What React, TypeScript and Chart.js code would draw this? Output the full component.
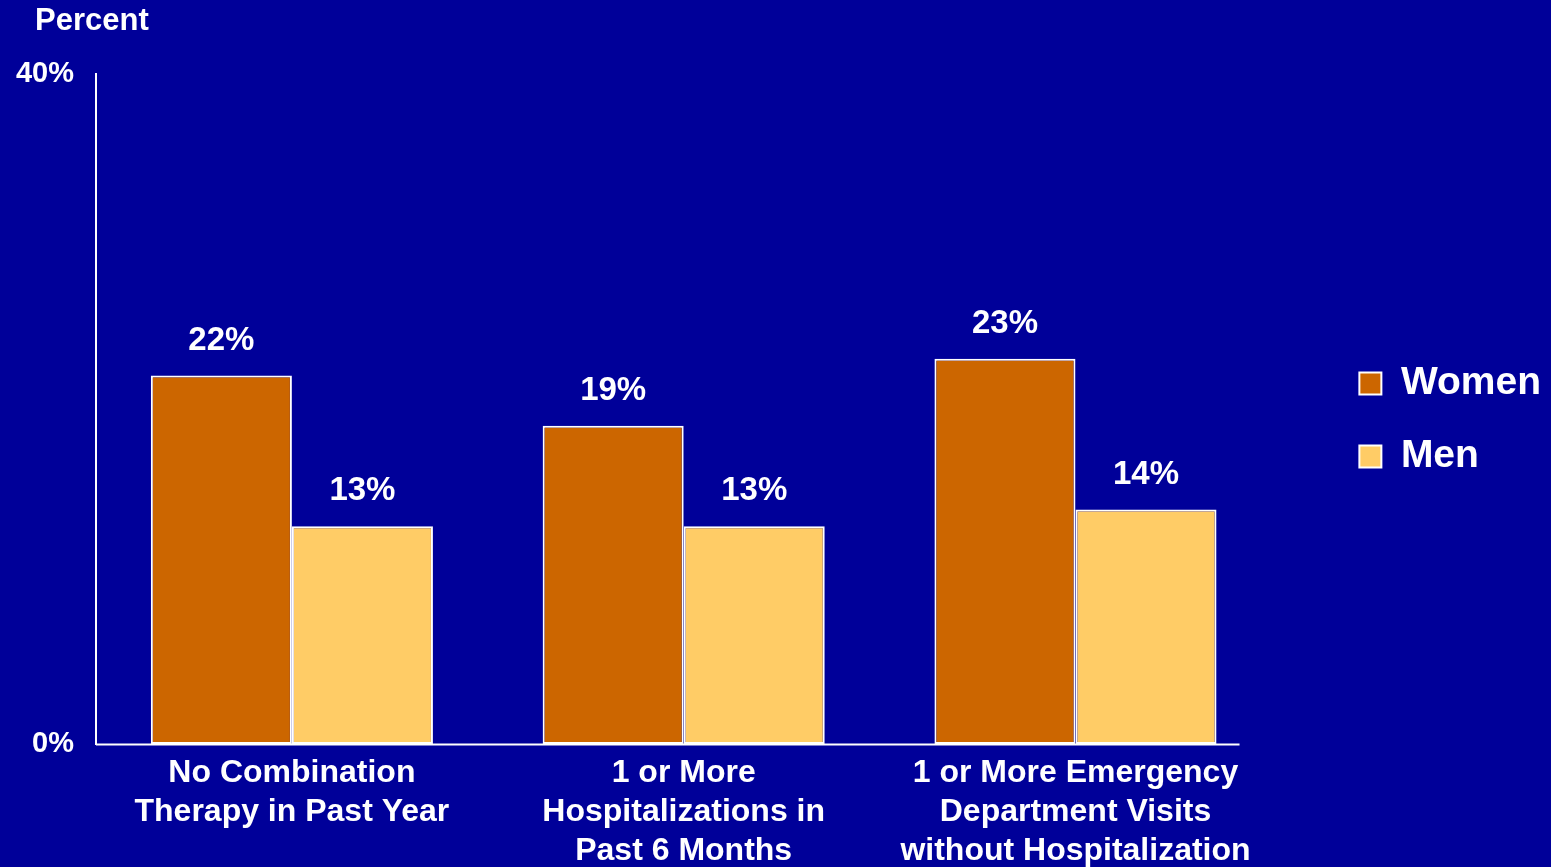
import React, { useEffect, useRef } from "react";
import { Chart, registerables } from "chart.js";

Chart.register(...registerables);

const categories: string[][] = [
  ["No Combination", "Therapy in Past Year"],
  ["1 or More", "Hospitalizations in", "Past 6 Months"],
  ["1 or More Emergency", "Department Visits", "without Hospitalization"],
];
const seriesNames = ["Women", "Men"];
const womenValues = [22, 19, 23];
const menValues = [13, 13, 14];
const yMin = 0;
const yMax = 40;
const yAxisTitle = "Percent";

const FONT = '"Liberation Sans", Arial, Helvetica, sans-serif';
const BG = "#000099";
const WOMEN_COLOR = "#CC6600";
const MEN_COLOR = "#FFCC66";

const valueLabels = {
  id: "valueLabels",
  afterDatasetsDraw(chart: any) {
    const ctx = chart.ctx;
    ctx.save();
    ctx.font = `bold 33px ${FONT}`;
    ctx.fillStyle = "#FFFFFF";
    ctx.textAlign = "center";
    ctx.textBaseline = "alphabetic";
    chart.data.datasets.forEach((ds: any, di: number) => {
      const meta = chart.getDatasetMeta(di);
      meta.data.forEach((bar: any, i: number) => {
        ctx.fillText(`${ds.data[i]}%`, bar.x, bar.y - 26);
      });
    });
    ctx.restore();
  },
};

const axisDecor = {
  id: "axisDecor",
  afterDraw(chart: any) {
    const ctx = chart.ctx;
    const area = chart.chartArea;
    ctx.save();
    // y-axis title, horizontal, above the axis
    ctx.font = `bold 31px ${FONT}`;
    ctx.fillStyle = "#FFFFFF";
    ctx.textAlign = "left";
    ctx.textBaseline = "middle";
    ctx.fillText(yAxisTitle, area.left - 61, area.top - 53);
    // baseline, running a little past the last bar
    const lastMeta = chart.getDatasetMeta(chart.data.datasets.length - 1);
    const lastBar: any = lastMeta.data[lastMeta.data.length - 1];
    const end = lastBar.x + lastBar.width / 2 + 23;
    const y = chart.scales.y.getPixelForValue(yMin);
    ctx.strokeStyle = "#FFFFFF";
    ctx.lineWidth = 2;
    ctx.beginPath();
    ctx.moveTo(area.left, Math.round(y) + 0.5);
    ctx.lineTo(end, Math.round(y) + 0.5);
    ctx.stroke();
    ctx.restore();
  },
};

export default function App() {
  const canvasRef = useRef<HTMLCanvasElement | null>(null);

  useEffect(() => {
    if (!canvasRef.current) return;
    const chart = new Chart(canvasRef.current, {
      type: "bar",
      data: {
        labels: categories as any,
        datasets: [
          {
            label: seriesNames[0],
            data: womenValues,
            backgroundColor: WOMEN_COLOR,
            borderColor: "#FFFFFF",
            borderWidth: 2,
            borderSkipped: false,
          },
          {
            label: seriesNames[1],
            data: menValues,
            backgroundColor: MEN_COLOR,
            borderColor: "#FFFFFF",
            borderWidth: 2,
            borderSkipped: false,
          },
        ],
      },
      options: {
        responsive: false,
        animation: false,
        layout: { padding: { left: 0, right: 0, top: 74, bottom: 0 } },
        datasets: {
          bar: { categoryPercentage: 0.72, barPercentage: 1 },
        },
        scales: {
          x: {
            grid: { display: false, drawTicks: false },
            border: { display: false },
            ticks: {
              color: "#FFFFFF",
              padding: 10,
              maxRotation: 0,
              autoSkip: false,
              font: { family: FONT, size: 32, weight: "bold", lineHeight: 1.22 },
            },
            afterFit: (s: any) => {
              s.height = 123;
            },
          },
          y: {
            min: yMin,
            max: yMax,
            grid: { display: false, drawTicks: false },
            border: { display: true, color: "#FFFFFF", width: 2 },
            ticks: {
              stepSize: yMax - yMin,
              color: "#FFFFFF",
              padding: 22,
              font: { family: FONT, size: 29, weight: "bold" },
              callback: (v: any) => `${v}%`,
            },
            afterFit: (s: any) => {
              s.width = 96;
            },
          },
          y2: {
            type: "linear",
            position: "right",
            display: true,
            grid: { display: false, drawTicks: false },
            border: { display: false },
            ticks: { display: false },
            afterFit: (s: any) => {
              s.width = 54;
            },
          },
        },
        plugins: {
          tooltip: { enabled: false },
          title: { display: false },
          legend: {
            display: true,
            position: "right",
            align: "center",
            fullSize: false,
            title: {
              display: true,
              text: "",
              font: { size: 1 },
              padding: { top: 21, bottom: 0 },
            },
            labels: {
              color: "#FFFFFF",
              boxWidth: 22,
              boxHeight: 22,
              padding: 34,
              font: { family: FONT, size: 39, weight: "bold" },
            },
          },
        },
      } as any,
      plugins: [valueLabels, axisDecor],
    });
    return () => chart.destroy();
  }, []);

  return (
    <div
      style={{
        position: "fixed",
        left: 0,
        top: 0,
        width: 1551,
        height: 867,
        background: BG,
        overflow: "hidden",
      }}
    >
      <canvas
        ref={canvasRef}
        width={1551}
        height={867}
        style={{ display: "block", width: 1551, height: 867 }}
      />
    </div>
  );
}
